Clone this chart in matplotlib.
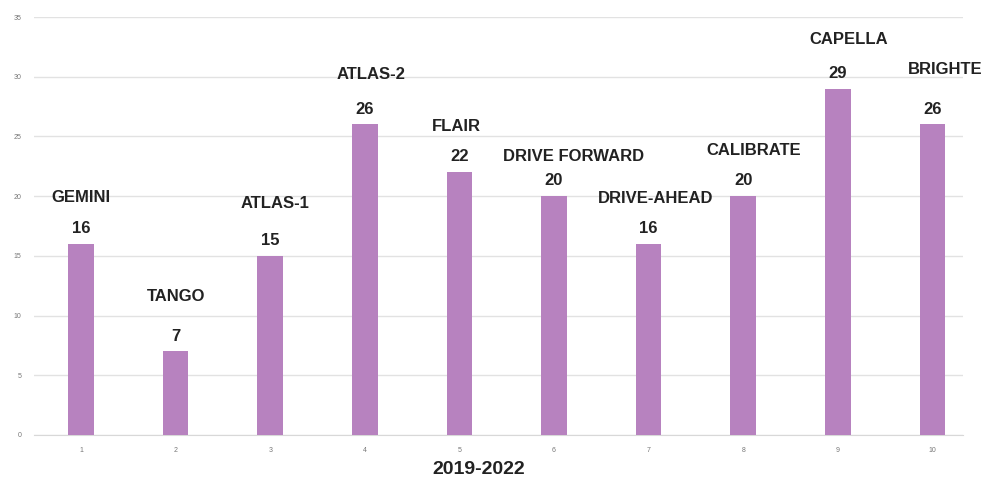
import numpy as np
import matplotlib
matplotlib.use("Agg")
import matplotlib.pyplot as plt

# Datos del grafico
posiciones = [1, 2, 3, 4, 5, 6, 7, 8, 9, 10]
valores = [16, 7, 15, 26, 22, 20, 16, 20, 29, 26]
estudios = ["GEMINI", "TANGO", "ATLAS-1", "ATLAS-2", "FLAIR", "DRIVE FORWARD",
            "DRIVE-AHEAD", "CALIBRATE", "CAPELLA", "BRIGHTE"]
y_ticks = [0, 5, 10, 15, 20, 25, 30, 35]
titulo_x = "2019-2022"

# Posicion de los nombres (altura en unidades del eje y desplazamiento en x)
nombre_y = [19.9, 11.6, 19.4, 30.2, 25.8, 23.3, 19.8, 23.8, 33.1, 30.6]
nombre_dx = [0.0, 0.0, 0.05, 0.07, -0.03, 0.21, 0.07, 0.11, 0.12, 0.14]

plt.rcParams['font.family'] = ['Liberation Sans', 'DejaVu Sans']

fig = plt.figure(figsize=(9.84, 4.83), dpi=100)
ax = fig.add_axes([0.0343, 0.0994, 0.944, 0.8654])

color_barra = "#b782bf"
ax.bar(posiciones, valores, width=0.27, color=color_barra, zorder=3)

ax.set_xlim(0.5, 10.32)
ax.set_ylim(0, 35)
ax.set_yticks(y_ticks)
ax.set_xticks(posiciones)
ax.tick_params(axis='both', length=0, labelsize=5, labelcolor="#777777")
ax.tick_params(axis='y', pad=9)
ax.tick_params(axis='x', pad=9)

ax.grid(axis='y', color="#e2e2e2", linewidth=1, zorder=0)
for lado in ["top", "right", "left"]:
    ax.spines[lado].set_visible(False)
ax.spines["bottom"].set_color("#d8d8d8")

# Valores encima de las barras
for x, v in zip(posiciones, valores):
    ax.annotate(str(v), (x, v), xytext=(0, 11), textcoords="offset points",
                ha="center", va="center", fontsize=12, fontweight="bold",
                color="#222222")

# Nombres de los estudios
for x, nombre, ny, dx in zip(posiciones, estudios, nombre_y, nombre_dx):
    ax.text(x + dx, ny, nombre, ha="center", va="center", fontsize=12,
            fontweight="bold", color="#222222", clip_on=False)

fig.text(479 / 984, 1 - 470 / 483, titulo_x, ha="center", va="center",
         fontsize=14, fontweight="bold", color="#222222")

fig.savefig("out.png", dpi=100)
